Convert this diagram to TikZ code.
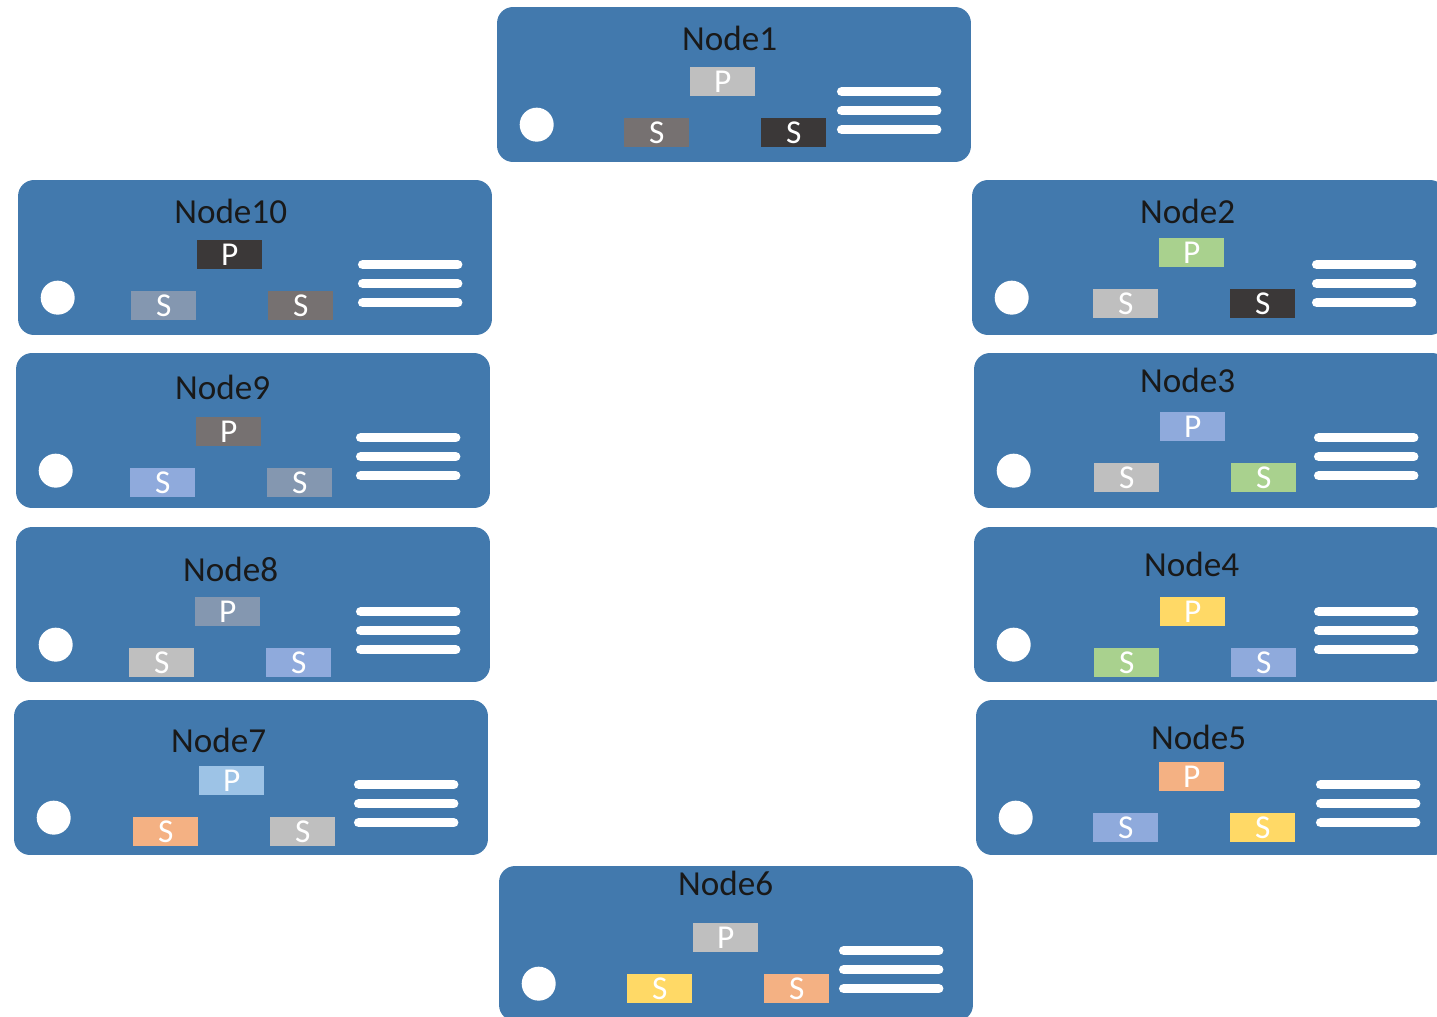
\documentclass[tikz,border=0pt]{standalone}
\usepackage{fontspec}
\setmainfont{Carlito}
\usepackage{tikz}
\usetikzlibrary{positioning, calc}
\definecolor{cardblue}{HTML}{4279AD}
\definecolor{boxlight}{HTML}{BFBFBF}
\definecolor{boxdark}{HTML}{767171}
\definecolor{boxblack}{HTML}{3B3838}
\definecolor{boxgreen}{HTML}{A9D18E}
\definecolor{boxblue}{HTML}{8FAADC}
\definecolor{boxyellow}{HTML}{FFD966}
\definecolor{boxorange}{HTML}{F4B183}
\definecolor{boxsky}{HTML}{9DC3E6}
\definecolor{boxslate}{HTML}{8497B0}

\begin{document}
\begin{tikzpicture}[
    x=0.02cm, y=-0.02cm,
    card/.style={fill=cardblue, rounded corners=0.32cm, minimum width=9.48cm,
                 minimum height=3.1cm, inner sep=0pt},
    title/.style={font=\fontsize{20}{24}\selectfont, text=black!90},
    role/.style={minimum width=1.3cm, minimum height=0.58cm, inner sep=0pt,
                 font=\fontsize{19}{22}\selectfont, text=white},
    led/.style={circle, fill=white, minimum size=0.68cm, inner sep=0pt},
    port/.style={white, line width=5.4pt, line cap=round}
  ]
    \useasboundingbox (0,0) rectangle (1437,1017);
    \clip (0,0) rectangle (1437,1017);

    % node/left/top/title x/title y/box shift x/box shift y/primary/secondary/secondary
    \foreach \i/\x/\y/\tx/\ty/\bx/\by/\pc/\sl/\sr in {
        1/497/7/233/32/7/-2/boxlight/boxdark/boxblack,
        2/972/180/216/32/1/-4/boxgreen/boxlight/boxblack,
        3/974/353/214/28/0/-3/boxblue/boxlight/boxgreen,
        4/974/527/218/38/0/8/boxyellow/boxgreen/boxblue,
        5/976/700/223/38/-3/0/boxorange/boxblue/boxyellow,
        6/499/866/227/18/8/-5/boxlight/boxyellow/boxorange,
        7/14/700/205/41/-1/4/boxsky/boxorange/boxlight,
        8/16/527/215/43/-7/8/boxslate/boxlight/boxblue,
        9/16/353/207/35/-6/2/boxdark/boxblue/boxslate,
        10/18/180/213/32/-7/-2/boxblack/boxslate/boxdark} {
      \node[card] (card\i) at (\x+237,\y+77.5) {};
      \node[title] (title\i) at ([shift={(\tx,\ty)}]card\i.north west) {Node\i};
      \node[role, fill=\pc] (p\i) at ([shift={(219+\bx,77+\by)}]card\i.north west) {P};
      \node[role, fill=\sl] (sa\i) at ([shift={(153+\bx,128+\by)}]card\i.north west) {S};
      \node[role, fill=\sr] (sb\i) at ([shift={(290+\bx,128+\by)}]card\i.north west) {S};
      \node[led] (led\i) at ([shift={(40,118)}]card\i.north west) {};
      \foreach \k in {0,1,2} {
        \coordinate (pa\i\k) at ([shift={(345,85+19*\k)}]card\i.north west);
        \coordinate (pb\i\k) at ([shift={(440,85+19*\k)}]card\i.north west);
        \draw[port] (pa\i\k) -- (pb\i\k);
      }
    }
\end{tikzpicture}
\end{document}
